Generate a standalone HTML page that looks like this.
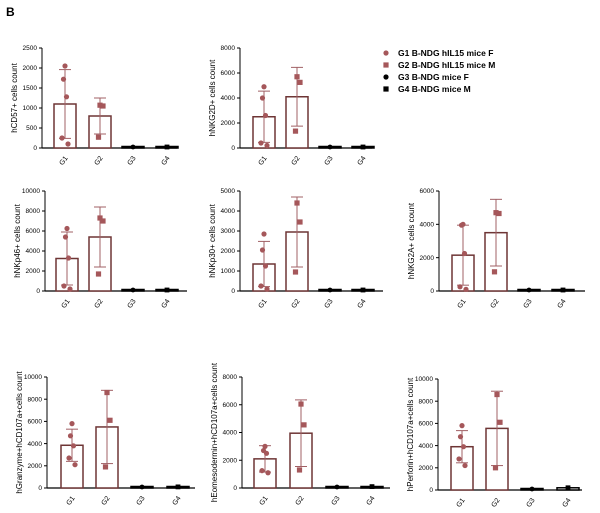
<!DOCTYPE html>
<html><head><meta charset="utf-8">
<style>
html,body{margin:0;padding:0;background:#fff;}
svg{display:block;font-family:"Liberation Sans",Arial,sans-serif;}
</style></head>
<body>
<svg id="fig" width="600" height="513" viewBox="0 0 600 513">
<text x="6" y="16" font-size="12" font-weight="bold">B</text>
<g id="legend"></g>
</svg>
<script>
const groups = ["G1","G2","G3","G4"];
const titles = ["hCD57+ cells count","hNKG2D+ cells count","hNKp46+ cells count","hNKp30+ cells count","hNKG2A+ cells count","hGranzyme+hCD107a+cells count","hEomesodermin+hCD107a+cells count","hPerforin+hCD107a+cells count"];
const yMaxes = [2500,8000,10000,5000,6000,10000,8000,10000];
const tickLists = [[0,500,1000,1500,2000,2500],[0,2000,4000,6000,8000],[0,2000,4000,6000,8000,10000],[0,1000,2000,3000,4000,5000],[0,2000,4000,6000],[0,2000,4000,6000,8000,10000],[0,2000,4000,6000,8000],[0,2000,4000,6000,8000,10000]];
const means = [[1100,800,10,10],[2500,4100,40,50],[3250,5400,0,20],[1350,2950,0,20],[2150,3500,0,0],[3850,5500,50,100],[2100,3950,50,100],[3900,5550,50,200]];
const sds = [[860,450,0,0],[2050,2350,0,0],[2650,3000,0,0],[1130,1750,0,0],[1800,2000,0,0],[1450,3300,0,0],[950,2400,0,0],[1450,3350,0,0]];
const g1Points = [[2050,1720,1280,250,100],[4900,4000,2600,400,200],[6250,5400,3300,500,200],[2850,2050,1250,250,100],[4000,3950,2250,250,100],[5800,4700,3800,2700,2100],[3000,2700,2500,1250,1100],[5800,4800,3900,2800,2200]];
const g2Points = [[1070,1050,270],[5700,5250,1350],[7300,7000,1700],[4400,3450,950],[4700,4650,1150],[8600,6100,1900],[6050,4550,1300],[8600,6100,2000]];
const legendLabels = ["G1  B-NDG hIL15 mice F","G2  B-NDG hIL15 mice M","G3  B-NDG mice F","G4  B-NDG mice M"];

// layout (pixel geometry, not data)
const layout = [
 {ax:42,y0:148,yt:48,cx:[65,100,133,167],end:177},
 {ax:240,y0:148,yt:48,cx:[264,297,330,363],end:372},
 {ax:45,y0:291,yt:191,cx:[67,100,133,167],end:187},
 {ax:240,y0:291,yt:191,cx:[264,297,330,363],end:383},
 {ax:439,y0:291,yt:191,cx:[463,496,529,563],end:585},
 {ax:47,y0:488,yt:377,cx:[72,107,142,178],end:195},
 {ax:242,y0:488,yt:377,cx:[265,301,337,372],end:390},
 {ax:438,y0:490,yt:379,cx:[462,497,532,568],end:582}
];
const NS="http://www.w3.org/2000/svg";
const svg=document.getElementById('fig');
const BAR="#6e3535", PT="#a5575a";
function mk(tag,attrs,parent){const e=document.createElementNS(NS,tag);for(const k in attrs)e.setAttribute(k,attrs[k]);parent.appendChild(e);return e;}

titles.forEach((t,i)=>{
  const L=layout[i];
  const g=mk('g',{},svg);
  
  
  const y=v=>L.y0-(v/yMaxes[i])*(L.y0-L.yt);
  // axes
  mk('line',{x1:L.ax,y1:L.yt,x2:L.ax,y2:L.y0,stroke:'#000','stroke-width':1},g);
  mk('line',{x1:L.ax,y1:L.y0,x2:L.end,y2:L.y0,stroke:'#000','stroke-width':1.2},g);
  tickLists[i].forEach(tv=>{
    mk('line',{x1:L.ax-3,y1:y(tv),x2:L.ax,y2:y(tv),stroke:'#000'},g);
    const tx=mk('text',{x:L.ax-5,y:y(tv)+2.2,'font-size':6.5,'text-anchor':'end'},g);
    tx.textContent=tv;
    
    
  });
  const yl=mk('text',{x:0,y:0,'font-size':8,'text-anchor':'middle',transform:`translate(${L.ax-25},${(L.yt+L.y0)/2}) rotate(-90)`},g);
  yl.textContent=t;
  
  
  groups.forEach((gn,j)=>{
    const cx=L.cx[j];
    const m=means[i][j], s=sds[i][j];
    const bw=22;
    const col=j<2?BAR:'#000';
    const bar=mk('rect',{x:cx-bw/2,y:Math.min(y(m),L.y0-1.5),width:bw,height:Math.max(L.y0-y(m),1.5),fill:'#fff',stroke:col,'stroke-width':1.5},g);
    
    
    if(s>0){
      mk('line',{x1:cx,y1:y(m+s),x2:cx,y2:y(Math.max(m-s,0)),stroke:'#a06065','stroke-width':1},g);
      mk('line',{x1:cx-6,y1:y(m+s),x2:cx+6,y2:y(m+s),stroke:'#a06065','stroke-width':1},g);
      if(m-s>0)mk('line',{x1:cx-6,y1:y(m-s),x2:cx+6,y2:y(m-s),stroke:'#a06065','stroke-width':1},g);
    }
    const lab=mk('text',{x:0,y:0,'font-size':7,'text-anchor':'end',transform:`translate(${cx+3},${L.y0+10}) rotate(-55)`},g);
    lab.textContent=gn;
    
    
  });
  g1Points[i].forEach((v,k)=>{
    const off=[0,-1,1,-2,2][k%5]*1.5;
    const c=mk('circle',{cx:L.cx[0]+off,cy:y(v),r:2.6,fill:PT},g);
    
    
  });
  g2Points[i].forEach((v,k)=>{
    const off=[0,2,-1][k%3]*1.5;
    const r=mk('rect',{x:L.cx[1]+off-2.6,y:y(v)-2.6,width:5.2,height:5.2,fill:PT},g);
    
    
  });
  const c3=mk('circle',{cx:L.cx[2],cy:Math.min(y(means[i][2]),L.y0-1),r:2.4,fill:'#000'},g);
  
  
  const r4=mk('rect',{x:L.cx[3]-2.4,y:Math.min(y(means[i][3]),L.y0-1)-2.4,width:4.8,height:4.8,fill:'#000'},g);
  
  
});

const lg=document.getElementById('legend');
legendLabels.forEach((t,k)=>{
  const yy=53+k*12;
  const col=k<2?PT:'#000';
  let m;
  if(k%2===0) m=mk('circle',{cx:386,cy:yy,r:2.6,fill:col},lg);
  else m=mk('rect',{x:383.4,y:yy-2.6,width:5.2,height:5.2,fill:col},lg);
  
  
  const tx=mk('text',{x:398,y:yy+3,'font-size':8.5,'font-weight':'bold','xml:space':'preserve'},lg);
  tx.textContent=t;
  
  
});
</script>
</body></html>
